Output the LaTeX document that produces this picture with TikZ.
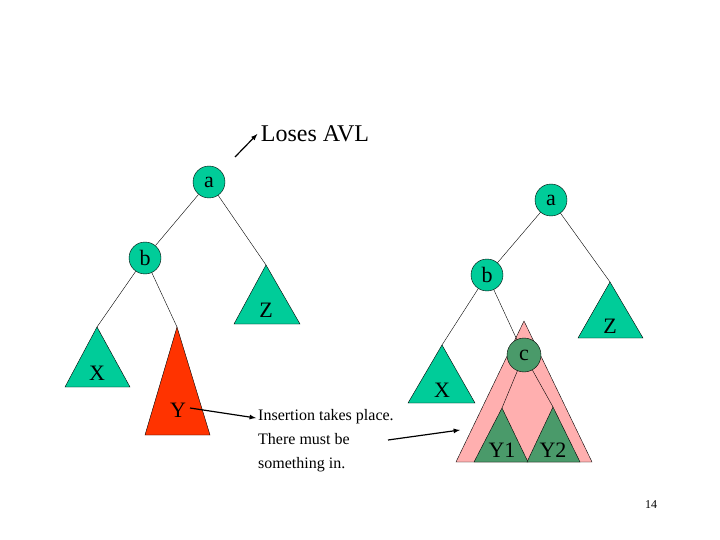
\documentclass[tikz,border=0pt]{standalone}
\usepackage{fontspec}
\setmainfont{Liberation Serif}
\begin{document}
\begin{tikzpicture}[x=1pt,y=-1pt,
  gr/.style={fill=grn,draw=black,line width=0.4pt},
  circ/.style={circle,draw=black,fill=grn,minimum size=32pt,inner sep=0pt,font=\fontsize{22}{24}\selectfont},
  lbl/.style={font=\fontsize{22}{24}\selectfont},
  edge/.style={draw=black,line width=0.4pt},
  arr/.style={-latex,line width=1.2pt}]
\definecolor{grn}{HTML}{00CC99}
\definecolor{rd}{HTML}{FF3300}
\definecolor{pk}{HTML}{FFAFAF}
\definecolor{dg}{HTML}{4A9A6A}
\useasboundingbox (0,0) rectangle (720,540);
% left tree
\node[circ] (a1) at (209,182) {a};
\node[circ] (b1) at (145,258) {b};
\draw[gr] (266,265) coordinate (z1) -- (300,324) -- (234,324) -- cycle;
\node[lbl] at (266,310) {Z};
\draw[gr] (97,327) coordinate (x1) -- (130,387) -- (65,387) -- cycle;
\node[lbl] at (97,373) {X};
\draw[fill=rd,draw=black] (177,327) coordinate (y1) -- (210,435) -- (145,435) -- cycle;
\node[lbl] (Y) at (178,410) {Y};
\draw[edge] (a1) -- (b1);
\draw[edge] (a1) -- (z1);
\draw[edge] (b1) -- (x1);
\draw[edge] (b1) -- (y1);
\node[font=\fontsize{24}{26}\selectfont] (loses) at (315,134) {Loses AVL};
\coordinate (ls) at (235,157);
\draw[arr] (ls) -- (loses.west);
% text
\node[align=left,anchor=north west,font=\fontsize{16}{24}\selectfont,inner sep=0pt] (ins) at (258,409) {Insertion takes place.\\There must be\\something in.};
\coordinate (ye) at (190,408);
\draw[arr] (ye) -- (256,418) coordinate (ie);
% right tree
\draw[edge] (551,200) -- (487,275);
\draw[fill=pk,draw=black] (524,321) -- (592,462) -- (456,462) -- cycle;
\node[circ] (a2) at (551,200) {a};
\node[circ] (b2) at (487,275) {b};
\draw[gr] (610,282) coordinate (z2) -- (643,338) -- (578,338) -- cycle;
\node[lbl] at (610,326) {Z};
\draw[gr] (442,345) coordinate (x2) -- (475,403) -- (408,403) -- cycle;
\node[lbl] at (442,390) {X};
\draw[fill=dg,draw=black] (502,408) coordinate (y21) -- (528,462) -- (474,462) -- cycle;
\draw[fill=dg,draw=black] (553,407) coordinate (y22) -- (580,462) -- (527,462) -- cycle;
\node[lbl] at (502,450) {Y1};
\node[lbl] at (553,450) {Y2};
\node[circ,fill=dg,minimum size=34pt] (c2) at (524,355) {c};
\draw[edge] (a2) -- (z2);
\draw[edge] (b2) -- (x2);
\draw[edge] (b2) -- (c2);
\draw[edge] (c2) -- (y21);
\draw[edge] (c2) -- (y22);
\coordinate (ts) at (388,440);
\draw[arr] (ts) -- (460,430);
\node[font=\fontsize{12}{14}\selectfont] (pg) at (651,505) {14};
\end{tikzpicture}
\end{document}
